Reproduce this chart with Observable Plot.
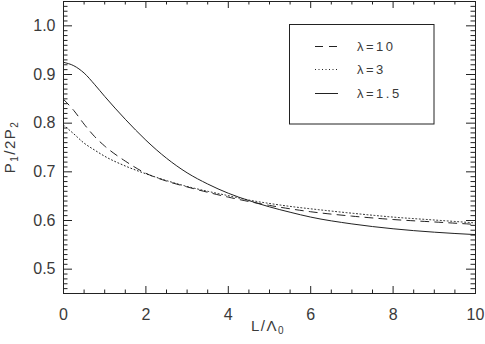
<!DOCTYPE html>
<html><head><meta charset="utf-8">
<script src="https://cdn.jsdelivr.net/npm/d3@7"></script>
<script src="https://cdn.jsdelivr.net/npm/@observablehq/plot@0.6"></script>
<style>
body{margin:0;background:#fff;}
#wrap{position:relative;width:485px;height:344px;overflow:hidden;}
#wrap svg{position:absolute;left:0;top:0;}
</style></head><body><div id="wrap"></div>
<script>
// x grid: L / Lambda_0
const xGrid = [0, 0.25, 0.5, 0.75, 1, 1.5, 2, 2.5, 3, 3.5, 4, 4.5, 5, 5.5, 6, 7, 8, 9, 10];
// P1/2P2 for each lambda
const lam10  = [0.849, 0.826, 0.798, 0.773, 0.753, 0.722, 0.697, 0.681, 0.669, 0.658, 0.648, 0.639, 0.631, 0.624, 0.618, 0.609, 0.602, 0.597, 0.592];
const lam3   = [0.796, 0.778, 0.759, 0.745, 0.732, 0.712, 0.696, 0.682, 0.670, 0.660, 0.651, 0.642, 0.635, 0.629, 0.624, 0.615, 0.607, 0.601, 0.595];
const lam15  = [0.925, 0.918, 0.903, 0.880, 0.855, 0.808, 0.765, 0.728, 0.698, 0.675, 0.656, 0.641, 0.628, 0.617, 0.607, 0.593, 0.583, 0.576, 0.571];
const seriesNames = ["λ=10", "λ=3", "λ=1.5"];
const seriesDash = ["8,6", "1,2.5", null];

const xMajor = [0, 2, 4, 6, 8, 10];
const xMinor = [0.5, 1, 1.5, 2.5, 3, 3.5, 4.5, 5, 5.5, 6.5, 7, 7.5, 8.5, 9, 9.5];
const yMajor = [0.5, 0.6, 0.7, 0.8, 0.9, 1.0];
const yMinor = d3.range(45, 106).map(v => v / 100).filter(v => Math.abs(v * 10 - Math.round(v * 10)) > 1e-6);

const W = 485, H = 344;
const mL = 63, mR = 10, mT = 1, mB = 51;
const fw = W - mL - mR, fh = H - mT - mB;

const toRows = (ys) => xGrid.map((x, i) => ({x, y: ys[i]}));
const allSeries = [lam10, lam3, lam15];
const ink = "#222";

const chart = Plot.plot({
  width: W, height: H,
  marginLeft: mL, marginRight: mR, marginTop: mT, marginBottom: mB,
  x: {domain: [0, 10]},
  y: {domain: [0.45, 1.05]},
  style: {fontFamily: "Liberation Sans, Arial, sans-serif", fontSize: "16px", color: "#3a3a3a", background: "#fff"},
  marks: [
    Plot.axisX({ticks: xMajor, tickSize: 0, tickPadding: 15, label: null, tickFormat: d => String(d), fontSize: 16}),
    Plot.axisY({ticks: yMajor, tickSize: 0, tickPadding: 8, label: null, tickFormat: d => d.toFixed(1), fontSize: 16}),
    // inward ticks, bottom/top
    Plot.tickX(xMajor, {x: d => d, insetTop: fh - 7, stroke: ink}),
    Plot.tickX(xMajor, {x: d => d, insetBottom: fh - 7, stroke: ink}),
    Plot.tickX(xMinor, {x: d => d, insetTop: fh - 3.5, stroke: ink}),
    Plot.tickX(xMinor, {x: d => d, insetBottom: fh - 3.5, stroke: ink}),
    // inward ticks, left/right
    Plot.tickY(yMajor, {y: d => d, insetRight: fw - 9, stroke: ink}),
    Plot.tickY(yMajor, {y: d => d, insetLeft: fw - 9, stroke: ink}),
    Plot.tickY(yMinor, {y: d => d, insetRight: fw - 4.5, stroke: ink}),
    Plot.tickY(yMinor, {y: d => d, insetLeft: fw - 4.5, stroke: ink}),
    ...allSeries.map((ys, i) => Plot.line(toRows(ys), {x: "x", y: "y", stroke: ink, strokeWidth: 1, strokeDasharray: seriesDash[i], curve: "monotone-x"})),
    Plot.frame({stroke: ink})
  ]
});
const wrap = document.getElementById("wrap");
wrap.appendChild(chart);

// axis titles with subscripts + legend
const svg = d3.select(wrap).append("svg").attr("width", W).attr("height", H)
  .style("font-family", "Liberation Sans, Arial, sans-serif").attr("fill", "#3a3a3a");

const xl = svg.append("text").attr("x", 268).attr("y", 331).attr("text-anchor", "middle")
  .attr("font-size", 15).attr("letter-spacing", 1.5);
xl.append("tspan").text("L/Λ");
xl.append("tspan").attr("font-size", 10).attr("dy", 3).text("0");

const yl = svg.append("text").attr("transform", "translate(15,147) rotate(-90)").attr("text-anchor", "middle")
  .attr("font-size", 15).attr("letter-spacing", 1.5);
yl.append("tspan").text("P");
yl.append("tspan").attr("font-size", 10).attr("dy", 3).text("1");
yl.append("tspan").attr("dy", -3).text("/2P");
yl.append("tspan").attr("font-size", 10).attr("dy", 3).text("2");

const lg = svg.append("g");
lg.append("rect").attr("x", 289.5).attr("y", 24.5).attr("width", 144.5).attr("height", 99.5)
  .attr("fill", "#fff").attr("stroke", ink).attr("stroke-width", 1);
const rowsY = [46, 69, 93];
seriesNames.forEach((name, i) => {
  lg.append("line").attr("x1", 315).attr("x2", 338).attr("y1", rowsY[i] + 0.5).attr("y2", rowsY[i] + 0.5)
    .attr("stroke", ink).attr("stroke-width", 1).attr("stroke-dasharray", seriesDash[i]);
  lg.append("text").attr("x", 357).attr("y", rowsY[i] + 5).attr("font-size", 13).attr("letter-spacing", 2.5).text(name);
});
</script></body></html>
